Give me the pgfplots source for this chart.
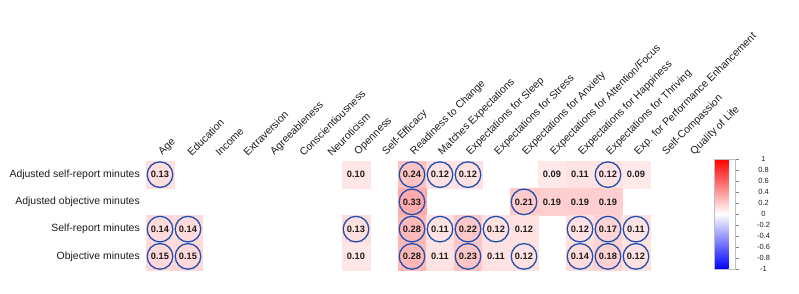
\documentclass[border=0pt]{standalone}
\usepackage{fontspec}
\setmainfont{Liberation Sans}
\usepackage{pgfplots}
\pgfplotsset{compat=1.18}
\usepackage{pgfplotstable}

\definecolor{sigblue}{RGB}{30,78,175}
\definecolor{txt}{RGB}{28,28,28}

% x: predictor index, y: outcome row (4 = top), r: correlation, sig: 1 if circled
\pgfplotstableread{
x  y  r     sig
0  4  0.13  1
7  4  0.10  0
9  4  0.24  1
10 4  0.12  1
11 4  0.12  1
14 4  0.09  0
15 4  0.11  0
16 4  0.12  1
17 4  0.09  0
9  3  0.33  1
13 3  0.21  1
14 3  0.19  0
15 3  0.19  0
16 3  0.19  0
0  2  0.14  1
1  2  0.14  1
7  2  0.13  1
9  2  0.28  1
10 2  0.11  1
11 2  0.22  1
12 2  0.12  1
13 2  0.12  0
15 2  0.12  1
16 2  0.17  1
17 2  0.11  1
0  1  0.15  1
1  1  0.15  1
7  1  0.10  0
9  1  0.28  1
10 1  0.11  0
11 1  0.23  1
12 1  0.11  0
13 1  0.12  1
15 1  0.14  1
16 1  0.18  1
17 1  0.12  1
}\corrtable

\begin{document}
\begin{tikzpicture}
\path[use as bounding box] (0,0) rectangle (799bp,294bp);
\begin{axis}[
  at={(146bp,24bp)}, anchor=south west,
  scale only axis, width=560bp, height=109bp,
  xmin=-0.5, xmax=19.5, ymin=0.5, ymax=4.5,
  axis line style={draw=none},
  major tick length=0pt,
  tick style={draw=none},
  xtick={0,...,19},
  xticklabels={Age, Education, Income, Extraversion, Agreeableness,
    Conscientiousness, Neuroticism, Openness, Self-Efficacy,
    Readiness to Change, Matches Expectations, Expectations for Sleep,
    Expectations for Stress, Expectations for Anxiety,
    Expectations for Attention/Focus, Expectations for Happiness,
    Expectations for Thriving, Exp. for Performance Enhancement,
    Self-Compassion, Quality of Life},
  xticklabel pos=upper,
  xticklabel style={xshift=4bp, yshift=4bp, rotate=45, anchor=south west,
    inner sep=0pt, font=\fontsize{10.5}{12}\selectfont, text=txt},
  ytick={1,2,3,4},
  yticklabels={Objective minutes, Self-report minutes,
    Adjusted objective minutes, Adjusted self-report minutes},
  yticklabel style={font=\fontsize{10.5}{12}\selectfont, text=txt,
    inner sep=0pt, xshift=-6bp},
  colormap={bwr}{rgb255=(0,0,255) rgb255=(255,255,255) rgb255=(255,0,0)},
  point meta min=-1, point meta max=1,
  colorbar,
  colorbar style={
    at={(parent axis.north east)}, anchor=north west,
    xshift=0bp, yshift=2bp,
    scale only axis, width=21bp, height=110bp,
    ytick={-1,-0.8,-0.6,-0.4,-0.2,0,0.2,0.4,0.6,0.8,1},
    ytick pos=right,
    yticklabel style={anchor=center, xshift=25bp,
      font=\fontsize{7.5}{8}\selectfont, text=txt,
      /pgf/number format/assume math mode=true},
    major tick length=3bp, tick align=outside,
    tick style={draw=gray, thin},
    axis line style={draw=gray!50, thin},
  },
  clip=false,
]
% shaded cells
\addplot[scatter, only marks, mark=square*, mark size=14bp,
  point meta=explicit,
  scatter/use mapped color={draw=mapped color, fill=mapped color,
    yscale=0.973, line width=0.2pt},
] table[x=x, y=y, meta=r] {\corrtable};
% circles on significant correlations
\addplot[only marks, mark=o, mark size=12.8bp,
  mark options={draw=sigblue, line width=1.3bp},
  unbounded coords=discard,
] table[x=x, y expr={\thisrow{sig}>0 ? \thisrow{y} : nan}] {\corrtable};
% correlation values printed in the cells
\addplot[only marks, mark=none,
  point meta=explicit,
  nodes near coords,
  nodes near coords style={anchor=center, text=txt,
    font=\bfseries\fontsize{9.3}{10}\selectfont},
  /pgf/number format/fixed, /pgf/number format/fixed zerofill,
  /pgf/number format/precision=2,
  /pgf/number format/assume math mode=true,
] table[x=x, y=y, meta=r] {\corrtable};
\end{axis}
\end{tikzpicture}
\end{document}
